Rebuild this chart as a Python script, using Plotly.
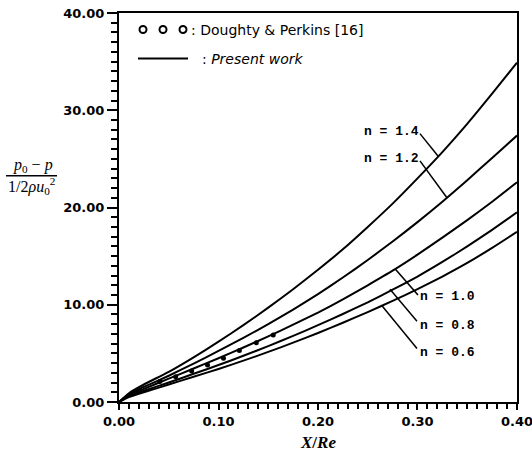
import plotly.graph_objects as go

# ---- data ----
x_grid = [0.0, 0.01, 0.025, 0.05, 0.075, 0.10, 0.125, 0.15, 0.175, 0.20,
          0.225, 0.25, 0.275, 0.30, 0.325, 0.35, 0.375, 0.40]
n14 = [0.0, 0.9, 1.8, 3.1, 4.6, 6.2, 7.9, 9.7, 11.6, 13.6, 15.7, 18.0, 20.4, 23.0, 25.7, 28.6, 31.7, 34.9]
n12 = [0.0, 0.8, 1.55, 2.7, 3.95, 5.25, 6.6, 8.0, 9.5, 11.1, 12.8, 14.6, 16.5, 18.5, 20.6, 22.8, 25.1, 27.4]
n10 = [0.0, 0.7, 1.35, 2.4, 3.45, 4.5, 5.6, 6.75, 7.95, 9.2, 10.55, 12.0, 13.5, 15.15, 16.9, 18.7, 20.6, 22.6]
n08 = [0.0, 0.6, 1.15, 2.0, 2.9, 3.8, 4.75, 5.75, 6.8, 7.9, 9.05, 10.25, 11.55, 12.9, 14.4, 16.0, 17.7, 19.5]
n06 = [0.0, 0.5, 1.0, 1.8, 2.6, 3.4, 4.25, 5.15, 6.1, 7.1, 8.15, 9.25, 10.4, 11.6, 12.9, 14.3, 15.85, 17.5]

exp_x = [0.041, 0.057, 0.073, 0.089, 0.105, 0.121, 0.138, 0.155]
exp_y = [2.1, 2.6, 3.2, 3.8, 4.5, 5.3, 6.1, 6.9]

curve_names = ["n = 1.4", "n = 1.2", "n = 1.0", "n = 0.8", "n = 0.6"]
curves = [n14, n12, n10, n08, n06]

# label positions (text anchor) and leader end points
label_pos = [(0.244, 27.8), (0.244, 25.0), (0.3005, 10.8), (0.3005, 7.9), (0.3005, 5.1)]
leader_from = [(0.3025, 27.6), (0.3025, 24.8), (0.3005, 11.0), (0.2995, 8.3), (0.2995, 5.5)]
leader_to = [(0.3206, 25.3), (0.3296, 21.0), (0.2774, 13.7), (0.2724, 11.6), (0.2643, 9.9)]

x_ticks = [0.0, 0.1, 0.2, 0.3, 0.4]
x_ticklabels = ["0.00", "0.10", "0.20", "0.30", "0.40"]
y_ticks = [0, 10, 20, 30, 40]
y_ticklabels = ["0.00", "10.00", "20.00", "30.00", "40.00"]

fig = go.Figure()
for name, ys in zip(curve_names, curves):
    fig.add_trace(go.Scatter(x=x_grid, y=ys, mode="lines", name=name,
                             line=dict(color="black", width=2, shape="spline", smoothing=0.5),
                             showlegend=False))
fig.add_trace(go.Scatter(x=exp_x, y=exp_y, mode="markers", name="Doughty & Perkins [16]",
                         marker=dict(symbol="circle", size=5, color="black"),
                         showlegend=False))

tickfont = dict(family="DejaVu Sans", size=13, color="black", weight="bold")
fig.update_xaxes(range=[0, 0.40002], tickvals=x_ticks, ticktext=x_ticklabels,
                 showline=True, linecolor="black", linewidth=2, mirror=True,
                 ticks="outside", ticklen=6, tickwidth=2, tickcolor="black",
                 minor=dict(dtick=0.01, ticks="outside", ticklen=5, tickwidth=1.5, tickcolor="black"),
                 showgrid=False, zeroline=False, tickfont=tickfont, ticklabeloverflow="allow",
                 automargin=False)
fig.update_yaxes(range=[0, 40.002], tickvals=y_ticks, ticktext=y_ticklabels,
                 showline=True, linecolor="black", linewidth=2, mirror=True,
                 ticks="outside", ticklen=10, tickwidth=2, tickcolor="black",
                 minor=dict(dtick=1, ticks="outside", ticklen=6, tickwidth=1.5, tickcolor="black"),
                 showgrid=False, zeroline=False, tickfont=tickfont, ticklabeloverflow="allow",
                 automargin=False)

shapes = []
annotations = []
labfont = dict(family="Liberation Mono", size=13, color="black", weight="bold")
for name, (lx, ly), (fx, fy), (tx, ty) in zip(curve_names, label_pos, leader_from, leader_to):
    annotations.append(dict(x=lx, y=ly, xref="x", yref="y", text=name, showarrow=False,
                            xanchor="left", yanchor="middle", font=labfont))
    shapes.append(dict(type="line", xref="x", yref="y", x0=fx, y0=fy, x1=tx, y1=ty,
                       line=dict(color="black", width=1.5)))

# legend (drawn manually)
for px in [143, 163, 183]:
    xp = (px - 119) / 398
    shapes.append(dict(type="circle", xref="paper", yref="paper", xsizemode="pixel", ysizemode="pixel",
                       xanchor=xp, yanchor=(402 - 30) / 388.5, x0=-3.5, x1=3.5, y0=-3.5, y1=3.5,
                       line=dict(color="black", width=2)))
shapes.append(dict(type="line", xref="paper", yref="paper",
                   x0=(138 - 119) / 398, x1=(188 - 119) / 398,
                   y0=(402 - 59) / 388.5, y1=(402 - 59) / 388.5, line=dict(color="black", width=2)))
legfont = dict(family="DejaVu Sans", size=14, color="black")
annotations.append(dict(x=(189 - 119) / 398, y=(402 - 30) / 388.5, xref="paper", yref="paper",
                        text=": Doughty & Perkins [16]", showarrow=False, xanchor="left", yanchor="middle",
                        font=legfont))
annotations.append(dict(x=(200 - 119) / 398, y=(402 - 59) / 388.5, xref="paper", yref="paper",
                        text=": <i>Present work</i>", showarrow=False, xanchor="left", yanchor="middle",
                        font=legfont))

# axis titles
annotations.append(dict(x=0.5, y=(402 - 442) / 388.5, xref="paper", yref="paper",
                        text="<i>X</i>/<i>Re</i>", showarrow=False, xanchor="center", yanchor="middle",
                        font=dict(family="Liberation Serif", size=17, color="black", weight="bold")))
fracfont = dict(family="Liberation Serif", size=16, color="black")
annotations.append(dict(x=(33 - 119) / 398, y=(402 - 166) / 388.5, xref="paper", yref="paper",
                        text="<i>p</i><sub>0</sub> − <i>p</i>", showarrow=False, xanchor="center",
                        yanchor="middle", font=fracfont))
annotations.append(dict(x=(31 - 119) / 398, y=(402 - 186) / 388.5, xref="paper", yref="paper",
                        text="1/2<i>ρu</i><sub>0</sub><sup>2</sup>", showarrow=False, xanchor="center",
                        yanchor="middle", font=fracfont))
shapes.append(dict(type="line", xref="paper", yref="paper",
                   x0=(6 - 119) / 398, x1=(57 - 119) / 398,
                   y0=(402 - 176) / 388.5, y1=(402 - 176) / 388.5, line=dict(color="black", width=1.5)))

fig.update_layout(width=532, height=454, autosize=False,
                  margin=dict(l=119, r=15, t=13, b=52, autoexpand=False),
                  paper_bgcolor="white", plot_bgcolor="white",
                  shapes=shapes, annotations=annotations, showlegend=False)

fig.write_html("out.html")
